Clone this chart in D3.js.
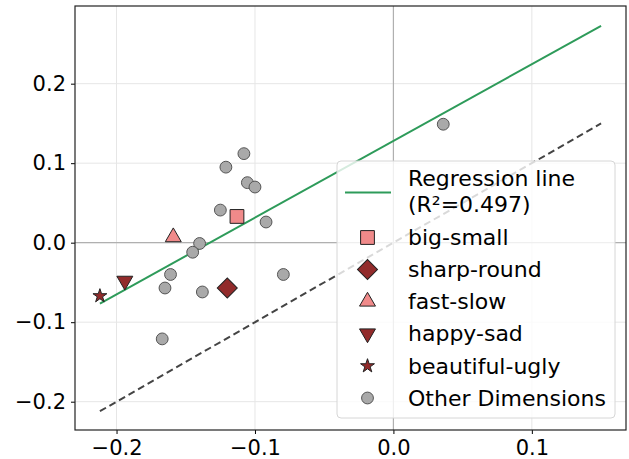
<!DOCTYPE html>
<html>
<head>
<meta charset="utf-8">
<script src="https://cdn.jsdelivr.net/npm/d3@7"></script>
<style>
  body { margin: 0; background: #fff; }
  text { font-family: "DejaVu Sans", sans-serif; fill: #000; }
</style>
</head>
<body>
<div id="chart"></div>
<script>
// highlighted dimensions
const dimNames = ["big-small", "sharp-round", "fast-slow", "happy-sad", "beautiful-ugly"];
const dimX = [-0.113, -0.120, -0.159, -0.194, -0.212];
const dimY = [0.033, -0.057, 0.007, -0.048, -0.067];
const dimShape = ["square", "diamond", "triangle", "triangleDown", "star"];
const dimColor = ["#f08a8a", "#922b2b", "#f08a8a", "#922b2b", "#922b2b"];

// other dimensions
const otherX = [-0.108, -0.121, -0.1055, -0.100, -0.125, -0.092, -0.140, -0.145, -0.161, -0.165, -0.138, -0.0795, -0.167, 0.036];
const otherY = [0.112, 0.095, 0.0755, 0.070, 0.041, 0.026, -0.001, -0.012, -0.040, -0.057, -0.062, -0.040, -0.121, 0.149];

// regression fit and line extent
const slope = 0.965;
const intercept = 0.128;
const r2 = 0.497;
const lineX = [-0.212, 0.150];

const xTicks = [-0.2, -0.1, 0.0, 0.1];
const yTicks = [-0.2, -0.1, 0.0, 0.1, 0.2];

const width = 629, height = 459;
const margin = {left: 75, right: 3, top: 6, bottom: 29};

const x = d3.scaleLinear().domain([-0.230, 0.168]).range([margin.left, width - margin.right]);
const y = d3.scaleLinear().domain([-0.2356, 0.2977]).range([height - margin.bottom, margin.top]);

const svg = d3.select("#chart").append("svg")
  .attr("width", width)
  .attr("height", height);

// grid
svg.append("g").selectAll("line")
  .data(xTicks).enter().append("line")
  .attr("x1", d => x(d)).attr("x2", d => x(d))
  .attr("y1", margin.top).attr("y2", height - margin.bottom)
  .attr("stroke", "#e6e6e6").attr("stroke-width", 1);
svg.append("g").selectAll("line")
  .data(yTicks).enter().append("line")
  .attr("y1", d => y(d)).attr("y2", d => y(d))
  .attr("x1", margin.left).attr("x2", width - margin.right)
  .attr("stroke", "#e6e6e6").attr("stroke-width", 1);

// zero lines
svg.append("line")
  .attr("x1", margin.left).attr("x2", width - margin.right)
  .attr("y1", y(0)).attr("y2", y(0))
  .attr("stroke", "#b0b0b0").attr("stroke-width", 1.2);
svg.append("line")
  .attr("x1", x(0)).attr("x2", x(0))
  .attr("y1", margin.top).attr("y2", height - margin.bottom)
  .attr("stroke", "#b0b0b0").attr("stroke-width", 1.2);

// y = x reference
svg.append("line")
  .attr("x1", x(lineX[0])).attr("y1", y(lineX[0]))
  .attr("x2", x(lineX[1])).attr("y2", y(lineX[1]))
  .attr("stroke", "#444").attr("stroke-width", 2)
  .attr("stroke-dasharray", "7,4");

// regression line
svg.append("line")
  .attr("x1", x(lineX[0])).attr("y1", y(slope * lineX[0] + intercept))
  .attr("x2", x(lineX[1])).attr("y2", y(slope * lineX[1] + intercept))
  .attr("stroke", "#2e9b5a").attr("stroke-width", 2);

// marker shapes
const sym = {
  square: d3.symbol(d3.symbolSquare, 190),
  diamond: d3.symbol(d3.symbolSquare, 200),
  triangle: d3.symbol(d3.symbolTriangle, 110),
  triangleDown: d3.symbol(d3.symbolTriangle, 110),
  star: d3.symbol(d3.symbolStar, 60),
  circle: d3.symbol(d3.symbolCircle, 110)
};
function rot(shape) {
  if (shape === "triangleDown") return " rotate(180)";
  if (shape === "diamond") return " rotate(45)";
  return "";
}

// other dimensions
svg.append("g").selectAll("path")
  .data(otherX.map((v, i) => [v, otherY[i]]))
  .enter().append("path")
  .attr("d", sym.circle())
  .attr("transform", d => `translate(${x(d[0])},${y(d[1])})`)
  .attr("fill", "#a9a9a9")
  .attr("stroke", "#555").attr("stroke-width", 1);

// highlighted dimensions
svg.append("g").selectAll("path")
  .data(dimNames.map((n, i) => ({n, i})))
  .enter().append("path")
  .attr("d", d => sym[dimShape[d.i]]())
  .attr("transform", d => `translate(${x(dimX[d.i])},${y(dimY[d.i])})${rot(dimShape[d.i])}`)
  .attr("fill", d => dimColor[d.i])
  .attr("stroke", "#222").attr("stroke-width", 1);

// axes
const xAxis = svg.append("g")
  .attr("transform", `translate(0,${height - margin.bottom})`)
  .call(d3.axisBottom(x).tickValues(xTicks).tickSize(4).tickPadding(6)
    .tickFormat(d => d3.format(".1f")(d).replace("-", "\u2212")));
const yAxis = svg.append("g")
  .attr("transform", `translate(${margin.left},0)`)
  .call(d3.axisLeft(y).tickValues(yTicks).tickSize(4).tickPadding(5)
    .tickFormat(d => d3.format(".1f")(d).replace("-", "\u2212")));
[xAxis, yAxis].forEach(a => {
  a.select(".domain").remove();
  a.selectAll("text").attr("font-size", 21).attr("font-family", "DejaVu Sans");
  a.selectAll("line").attr("stroke", "#000");
});

// frame
svg.append("rect")
  .attr("x", margin.left).attr("y", margin.top)
  .attr("width", width - margin.left - margin.right)
  .attr("height", height - margin.top - margin.bottom)
  .attr("fill", "none").attr("stroke", "#222").attr("stroke-width", 1.2);

// legend
const lg = svg.append("g");
lg.append("rect")
  .attr("x", 337).attr("y", 161).attr("width", 278).attr("height", 257)
  .attr("rx", 4)
  .attr("fill", "#fff").attr("fill-opacity", 0.8)
  .attr("stroke", "#d6d6d6").attr("stroke-width", 1);

const textX = 408, markX = 367.5, fs = 22;
lg.append("line")
  .attr("x1", 345).attr("x2", 391).attr("y1", 192.5).attr("y2", 192.5)
  .attr("stroke", "#2e9b5a").attr("stroke-width", 2);
lg.append("text").attr("x", textX).attr("y", 186).attr("font-size", fs).text("Regression line");
lg.append("text").attr("x", textX).attr("y", 212).attr("font-size", fs).text(`(R\u00b2=${r2})`);

const rowY = [237.5, 269.5, 301.5, 333.5, 366, 398];
dimNames.forEach((n, i) => {
  lg.append("path")
    .attr("d", sym[dimShape[i]]())
    .attr("transform", `translate(${markX},${rowY[i]})${rot(dimShape[i])}`)
    .attr("fill", dimColor[i])
    .attr("stroke", "#222").attr("stroke-width", 1);
  lg.append("text").attr("x", textX).attr("y", rowY[i]).attr("dy", "0.36em")
    .attr("font-size", fs).text(n);
});
lg.append("path")
  .attr("d", sym.circle())
  .attr("transform", `translate(${markX},${rowY[5]})`)
  .attr("fill", "#a9a9a9").attr("stroke", "#555").attr("stroke-width", 1);
lg.append("text").attr("x", textX).attr("y", rowY[5]).attr("dy", "0.36em")
  .attr("font-size", fs).text("Other Dimensions");
</script>
</body>
</html>
